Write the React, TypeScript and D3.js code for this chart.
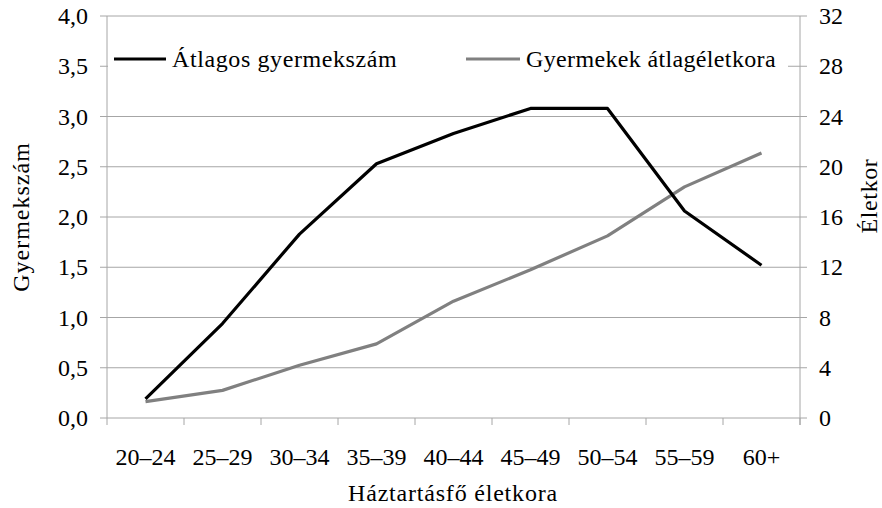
import React from "react";
import * as d3 from "d3";

const categories = ["20–24", "25–29", "30–34", "35–39", "40–44", "45–49", "50–54", "55–59", "60+"];
const childCount = [0.19, 0.94, 1.83, 2.53, 2.83, 3.08, 3.08, 2.06, 1.52];
const childAge = [1.3, 2.2, 4.2, 5.9, 9.3, 11.8, 14.5, 18.4, 21.1];
const leftTicks = [0, 0.5, 1, 1.5, 2, 2.5, 3, 3.5, 4];
const rightTicks = [0, 4, 8, 12, 16, 20, 24, 28, 32];
const seriesNames = ["Átlagos gyermekszám", "Gyermekek átlagéletkora"];

const W = 882;
const H = 508;
const L = 107;
const R = 800;
const T = 16;
const B = 418;
const FONT = "'Liberation Serif', 'Times New Roman', serif";
const GRID = "#a6a6a6";

export default function App() {
  const x = d3.scaleBand<string>().domain(categories).range([L, R]);
  const yL = d3.scaleLinear().domain([0, 4]).range([B, T]);
  const yR = d3.scaleLinear().domain([0, 32]).range([B, T]);
  const cx = (c: string) => (x(c) as number) + x.bandwidth() / 2;
  const lineL = d3.line<number>().x((_, i) => cx(categories[i])).y((d) => yL(d));
  const lineR = d3.line<number>().x((_, i) => cx(categories[i])).y((d) => yR(d));
  const fmt = (v: number) => v.toFixed(1).replace(".", ",");
  const tickXs = categories.map((c) => x(c) as number).concat([R]);

  return (
    <svg width={W} height={H} style={{ position: "absolute", left: 0, top: 0, background: "#fff" }} fontFamily={FONT}>
      {leftTicks.map((t) => (
        <line key={"g" + t} x1={L - 7} x2={R + 7} y1={yL(t)} y2={yL(t)} stroke={GRID} strokeWidth={1} />
      ))}
      <line x1={L} x2={L} y1={T} y2={B} stroke={GRID} strokeWidth={1} />
      <line x1={R} x2={R} y1={T} y2={B + 7} stroke={GRID} strokeWidth={1} />
      {tickXs.map((tx, i) => (
        <line key={"xt" + i} x1={tx} x2={tx} y1={B} y2={B + 7} stroke={GRID} strokeWidth={1} />
      ))}
      {leftTicks.map((t) => (
        <text key={"lt" + t} x={88} y={yL(t) + 8} textAnchor="end" fontSize={24} fill="#000">
          {fmt(t)}
        </text>
      ))}
      {rightTicks.map((t) => (
        <text key={"rt" + t} x={819} y={yR(t) + 8} textAnchor="start" fontSize={24} fill="#000">
          {t}
        </text>
      ))}
      {categories.map((c) => (
        <text key={"c" + c} x={cx(c)} y={465} textAnchor="middle" fontSize={24} fill="#000">
          {c}
        </text>
      ))}
      <text x={453} y={501} textAnchor="middle" fontSize={24} letterSpacing={0.8} fill="#000">
        Háztartásfő életkora
      </text>
      <text transform={`translate(29,217) rotate(-90)`} textAnchor="middle" fontSize={24} letterSpacing={1} fill="#000">
        Gyermekszám
      </text>
      <text transform={`translate(877,196) rotate(-90)`} textAnchor="middle" fontSize={24} letterSpacing={0.6} fill="#000">
        Életkor
      </text>
      <path d={lineR(childAge) || ""} fill="none" stroke="#808080" strokeWidth={3.2} strokeLinejoin="round" />
      <path d={lineL(childCount) || ""} fill="none" stroke="#000" strokeWidth={3.2} strokeLinejoin="round" />
      <rect x={108} y={40} width={680} height={38} fill="#fff" />
      <line x1={114} x2={166} y1={59} y2={59} stroke="#000" strokeWidth={3.2} />
      <text x={172} y={67} fontSize={24} letterSpacing={0.6} fill="#000">{seriesNames[0]}</text>
      <line x1={466} x2={520} y1={59} y2={59} stroke="#808080" strokeWidth={3.2} />
      <text x={526} y={67} fontSize={24} letterSpacing={0.35} fill="#000">{seriesNames[1]}</text>
    </svg>
  );
}
